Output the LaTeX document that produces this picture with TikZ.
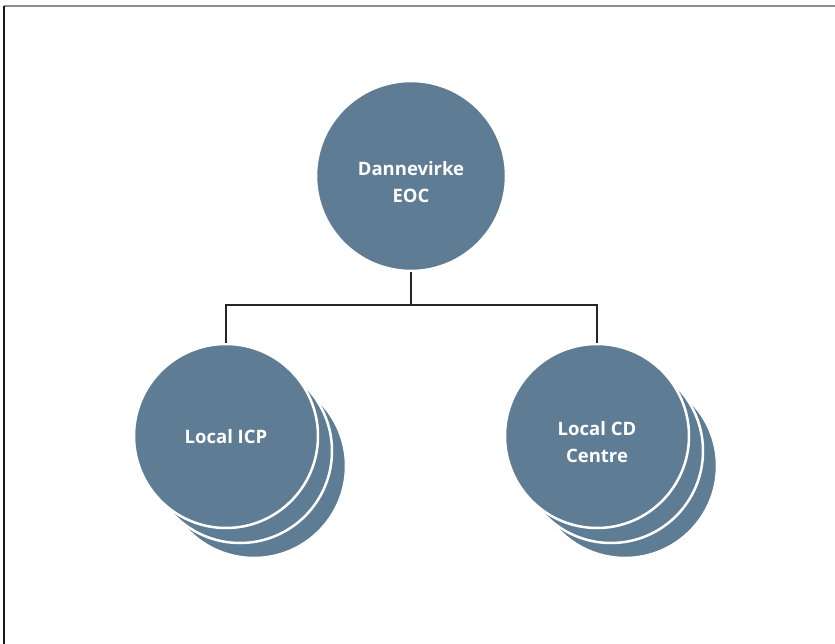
\documentclass[tikz,border=0pt]{standalone}
\usepackage{fontspec}
\setmainfont{Open Sans}
\usetikzlibrary{positioning,calc}
\definecolor{slateblue}{RGB}{94,125,149}
\begin{document}
\begin{tikzpicture}[x=1pt,y=-1pt,
   unit/.style={circle,fill=slateblue,draw=white,line width=2.5pt,minimum size=#1,inner sep=0pt},
   unit/.default=184pt,
   txt/.style={font=\bfseries\fontsize{18.5}{26.5}\selectfont,text=white,align=center,yshift=-6pt},
   link/.style={draw=black!85,line width=1.3pt}]
	\useasboundingbox (0,0) rectangle (835,644);
	\draw[black!45,line width=2pt] (4,6) -- (835,6);
	\draw[black!90,line width=1.5pt] (4,6) -- (4,644);
 	\node[unit=190pt,label={[txt]center:Dannevirke\\EOC}] (eoc) at (411,176) {};
 	% stacked circles behind the local units
 	\foreach \k in {2,1}{
 	  \node[unit] (icp\k) at ($(226,436)+(14*\k,15*\k)$) {};
 	  \node[unit] (cd\k) at ($(597,436)+(14*\k,15*\k)$) {};
 	}
 	\node[unit,label={[txt,yshift=5pt]center:Local ICP}] (icp) at (226,436) {};
 	\node[unit,label={[txt]center:Local CD\\Centre}] (cd) at (597,436) {};
 	\coordinate (split) at (411,305);
 	\draw[link] (eoc.south) -- (split) -| (icp.north);
 	\draw[link] (split) -| (cd.north);
\end{tikzpicture}
\end{document}
